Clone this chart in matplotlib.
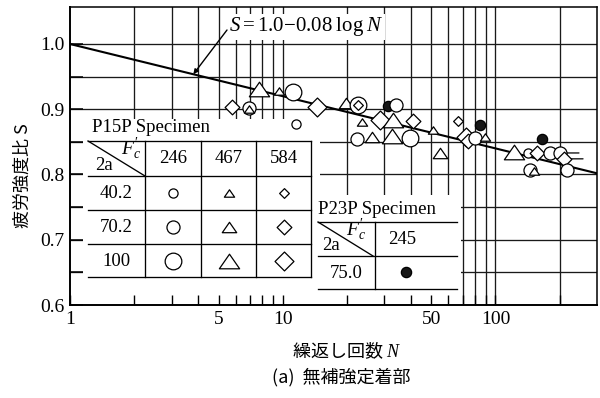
import numpy as np
import matplotlib
matplotlib.use('Agg')
import matplotlib.pyplot as plt
from matplotlib.path import Path
from matplotlib.patches import Rectangle
from matplotlib.lines import Line2D
from matplotlib.ticker import FixedLocator, FixedFormatter, NullFormatter

plt.rcParams['font.family'] = ['Liberation Serif', 'DejaVu Serif']
plt.rcParams['mathtext.fontset'] = 'custom'
plt.rcParams['mathtext.rm'] = 'Liberation Serif'
plt.rcParams['mathtext.it'] = 'Liberation Serif:italic'
plt.rcParams['mathtext.bf'] = 'Liberation Serif:bold'

# ---------------- data ----------------
cycles_N = [5.79, 6.96, 6.96, 7.75, 9.63, 11.2, 11.6, 14.5, 19.9, 22.7, 22.7,
            23.7, 28.8, 33.1, 31.4, 34.2, 41.1, 22.4, 26.4, 32.7, 39.8, 51.1,
            55.1, 67.0, 72.3, 74.6, 80.5, 89.7, 85.0, 166, 121.6, 141.5, 156,
            179.5, 200, 209, 218, 144.6, 151]
ratio_S = [0.903, 0.902, 0.901, 0.931, 0.928, 0.926, 0.877, 0.903, 0.910, 0.907, 0.907,
           0.880, 0.884, 0.884, 0.905, 0.907, 0.882, 0.854, 0.857, 0.859, 0.856, 0.868,
           0.833, 0.882, 0.857, 0.851, 0.856, 0.857, 0.876, 0.854, 0.834, 0.833, 0.833,
           0.833, 0.833, 0.824, 0.807, 0.807, 0.805]
conc_Fc = [584, 246, 467, 467, 467, 246, 246, 584, 467, 246, 584,
           467, 584, 467, 245, 246, 584, 246, 467, 467, 246, 467,
           467, 584, 584, 584, 246, 467, 245, 245, 467, 246, 584,
           246, 246, 584, 246, 246, 467]
crack_2a = [70.2, 70.2, 40.2, 100, 40.2, 100, 40.2, 100, 70.2, 100, 40.2,
            40.2, 100, 100, 75.0, 70.2, 70.2, 70.2, 70.2, 100, 100, 40.2,
            70.2, 40.2, 100, 70.2, 70.2, 40.2, 75.0, 75.0, 100, 40.2, 70.2,
            70.2, 70.2, 70.2, 70.2, 70.2, 40.2]
runout = [False] * 34 + [True, True, False, False, False]

fit_a, fit_b = 1.0, 0.08
fit_N = [1, 300]

x_major = [1, 5, 10, 50, 100]
x_major_labels = ['1', '5', '10', '50', '100']
x_minor = [2, 3, 4, 6, 7, 8, 9, 20, 30, 40, 60, 70, 80, 90, 200]
y_major = [0.6, 0.7, 0.8, 0.9, 1.0]
y_major_labels = ['0.6', '0.7', '0.8', '0.9', '1.0']
y_minor = [0.65, 0.75, 0.85, 0.95]

p15_fc = [246, 467, 584]
p15_2a = [40.2, 70.2, 100]
p23_fc = [245]
p23_2a = [75.0]

# ---------------- styles ----------------
TRI = Path([(-1, -0.72), (1, -0.72), (0, 0.72), (-1, -0.72)], closed=True)
DIA = Path([(0, 1), (1, 0), (0, -1), (-1, 0), (0, 1)], closed=True)
shape_of = {246: 'o', 467: TRI, 584: DIA, 245: 'o'}
size_of = {
    246: {40.2: 6.6, 70.2: 9.4, 100: 12.0},
    467: {40.2: 7.4, 70.2: 10.4, 100: 14.6},
    584: {40.2: 7.0, 70.2: 10.6, 100: 13.6},
    245: {75.0: 7.4},
}


def mstyle(fc, a):
    filled = fc == 245
    return dict(marker=shape_of[fc], ms=size_of[fc][a],
                mfc='#161616' if filled else 'white', mec='black',
                mew=0.9, ls='none')


W, H = 600, 398
fig = plt.figure(figsize=(W / 100, H / 100), dpi=100)
ax = fig.add_axes([70 / W, (H - 305) / H, 527 / W, 298 / H])
ax.set_xscale('log')
ax.set_xlim(1, 300)
ax.set_ylim(0.6, 1.0567)

# grid (manual, under white boxes)
for xv in sorted(set(x_minor + [5, 10, 50, 100])):
    ax.axvline(xv, color='#1a1a1a', lw=0.95, zorder=0.8)
for yv in y_minor + y_major[1:]:
    ax.axhline(yv, color='#1a1a1a', lw=0.95, zorder=0.8)


def F(px, py):
    return (px / W, 1 - py / H)


def box(x0, y0, x1, y1):
    (fx0, fy1), (fx1, fy0) = F(x0, y0), F(x1, y1)
    ax.add_patch(Rectangle((fx0, fy0), fx1 - fx0, fy1 - fy0, transform=fig.transFigure,
                           facecolor='white', edgecolor='none', zorder=1, clip_on=False))


def seg(x0, y0, x1, y1, lw=0.95):
    a, b = F(x0, y0), F(x1, y1)
    ax.add_line(Line2D([a[0], b[0]], [a[1], b[1]], transform=fig.transFigure,
                       color='black', lw=lw, zorder=1.2, clip_on=False))


def txt(px, py, s, **kw):
    x, y = F(px, py)
    kw.setdefault('ha', 'center')
    kw.setdefault('va', 'center')
    kw.setdefault('fontsize', 13.5)
    fig.text(x, y, s, **kw)


box(83, 119, 320, 305)
box(310, 195, 461, 305)

# fit line
fit_S = [fit_a - fit_b * np.log10(n) for n in fit_N]
ax.plot(fit_N, fit_S, color='black', lw=1.5, zorder=2, solid_capstyle='butt')

# data points
for i, (n, s, fc, a, ro) in enumerate(zip(cycles_N, ratio_S, conc_Fc, crack_2a, runout)):
    if ro:
        ax.annotate('', xy=(n, s), xytext=(14, 0), textcoords='offset points',
                    arrowprops=dict(arrowstyle='-', lw=0.9, color='black',
                                    shrinkA=0, shrinkB=0), zorder=2.9)
    ax.plot([n], [s], zorder=3 + i * 0.01, clip_on=False, **mstyle(fc, a))

# annotation of fit
n_ann = 3.8
ax.annotate('', xy=(n_ann, fit_a - fit_b * np.log10(n_ann)), xytext=(227, H - 30),
            textcoords='figure pixels',
            arrowprops=dict(arrowstyle='-|>', lw=1.0, color='black', mutation_scale=7,
                            shrinkA=0, shrinkB=0), zorder=4)
txt(229, 27, r'$S{=}1.0{-}0.08\;\mathrm{log}\;N$', ha='left', fontsize=15,
    bbox=dict(facecolor='white', edgecolor='none', boxstyle='square,pad=0.05'), zorder=5)

# P15P table
txt(92, 128, 'P15P Specimen', ha='left')
for py in [141, 176, 210, 244, 277]:
    seg(88, py, 311, py)
for px in [145, 201, 256, 311]:
    seg(px, 141, px, 277)
seg(88, 141, 145, 176)
txt(131, 149, r"$F^{\prime}_{c}$", fontsize=14)
txt(104, 166, '2a')
cols = [173, 229, 284]
rows = [193, 227, 261]
for cx, fc in zip(cols, p15_fc):
    txt(cx, 158, str(fc))
for ry, a in zip(rows, p15_2a):
    txt(116, ry, f'{a:g}')
    for cx, fc in zip(cols, p15_fc):
        x, y = F(cx, ry)
        ax.add_line(Line2D([x], [y], transform=fig.transFigure, zorder=3,
                           clip_on=False, **mstyle(fc, a)))

# P23P table
txt(318, 210, 'P23P Specimen', ha='left')
for py in [222, 256, 289]:
    seg(318, py, 457, py)
seg(375, 222, 375, 289)
seg(318, 222, 373, 256)
txt(356, 230, r"$F^{\prime}_{c}$", fontsize=14)
txt(331, 246, '2a')
txt(402, 240, str(p23_fc[0]))
txt(346, 273, f'{p23_2a[0]:.1f}')
x, y = F(406, 272)
ax.add_line(Line2D([x], [y], transform=fig.transFigure, zorder=3, clip_on=False,
                   **mstyle(p23_fc[0], p23_2a[0])))

# axes, ticks
ax.xaxis.set_major_locator(FixedLocator(x_major))
ax.xaxis.set_major_formatter(FixedFormatter(x_major_labels))
ax.xaxis.set_minor_locator(FixedLocator(x_minor))
ax.xaxis.set_minor_formatter(NullFormatter())
ax.yaxis.set_major_locator(FixedLocator(y_major))
ax.yaxis.set_major_formatter(FixedFormatter(y_major_labels))
ax.yaxis.set_minor_locator(FixedLocator(y_minor))
ax.tick_params(axis='x', which='both', direction='in', length=7, width=1.0,
               labelsize=14, pad=4, top=False)
ax.tick_params(axis='y', which='both', direction='in', length=9.5, width=1.1,
               labelsize=14, pad=4, right=False)
for side, sp in ax.spines.items():
    sp.set_linewidth(1.4 if side in ('left', 'bottom') else 1.1)
    sp.set_zorder(6)

cjk = ['Noto Sans CJK JP', 'DejaVu Sans']
fig.text(23 / W, 1 - 176 / H, '疲労強度比 S', rotation=90, ha='center', va='center',
         fontsize=13, family=cjk)
fig.text(347 / W, 1 - 350 / H, '繰返し回数 $N$', ha='center', va='center',
         fontsize=13, family=cjk)
fig.text(341 / W, 1 - 377 / H, '(a)  無補強定着部', ha='center', va='center',
         fontsize=13, family=cjk)

fig.savefig('out.png', dpi=100)
